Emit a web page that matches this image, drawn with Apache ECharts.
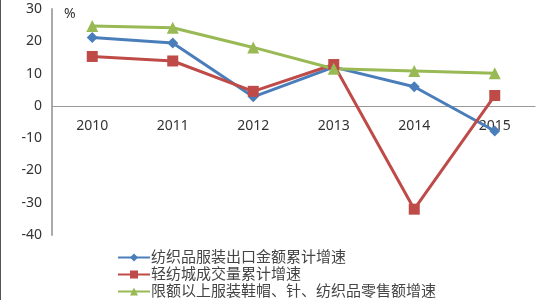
<!DOCTYPE html>
<html><head><meta charset="utf-8">
<script src="https://cdn.jsdelivr.net/npm/echarts@6/dist/echarts.min.js"></script>
<style>html,body{margin:0;padding:0;background:#fff}#c{width:550px;height:300px;box-sizing:border-box;border-left:1px solid #555}</style>
</head><body><div id="c"></div>
<script>
const years = ['2010','2011','2012','2013','2014','2015'];
const exportGrowth = [21.2, 19.5, 2.8, 12.0, 5.9, -7.8];
const cityGrowth = [15.3, 13.9, 4.5, 12.8, -32.0, 3.2];
const retailGrowth = [24.7, 24.2, 18.1, 11.5, 10.8, 10.1];
const names = ['纺织品服装出口金额累计增速','轻纺城成交量累计增速','限额以上服装鞋帽、针、纺织品零售额增速'];
const colors = ['#4A7EBB','#BE4B48','#98B954'];
const font = '"Noto Sans", "Noto Sans CJK SC", sans-serif';
const chart = echarts.init(document.getElementById('c'));
function s(i, data, symbol, size){
  return {name:names[i], type:'line', data:data, symbol:symbol, symbolSize:size,
    lineStyle:{width:3,color:colors[i]}, itemStyle:{color:colors[i]}, z: 3};
}
const gridTop = 9, gridBottom = 65, yMin = -40, yMax = 30;
const plotH = 300 - gridTop - gridBottom;
const zeroOffset = -plotH * (0 - yMin) / (yMax - yMin);
chart.setOption({
  animation:false,
  textStyle:{fontFamily:font},
  grid:{left:51,right:15,top:gridTop,bottom:gridBottom},
  graphic:[{type:'text',left:63,top:7,style:{text:'%',font:'14px '+font,fill:'#333'}}],
  xAxis:{type:'category',data:years,boundaryGap:true,offset:zeroOffset,
    axisLine:{onZero:false,lineStyle:{color:'#999',width:1}},axisTick:{show:false},
    axisLabel:{color:'#333',fontSize:14,margin:13}},
  yAxis:{type:'value',min:yMin,max:yMax,interval:10,
    axisLine:{show:true,lineStyle:{color:'#aaa',width:2}},axisTick:{show:false},
    splitLine:{show:false},axisLabel:{color:'#333',fontSize:14,margin:10}},
  legend:{orient:'vertical',left:116,top:249,padding:0,itemGap:0,itemWidth:32,itemHeight:10,
    textStyle:{fontSize:15,color:'#444',lineHeight:17,padding:[0,0,0,-4]},
    data:names},
  series:[s(0,exportGrowth,'diamond',11), s(1,cityGrowth,'rect',11), s(2,retailGrowth,'triangle',12)]
});
</script></body></html>
